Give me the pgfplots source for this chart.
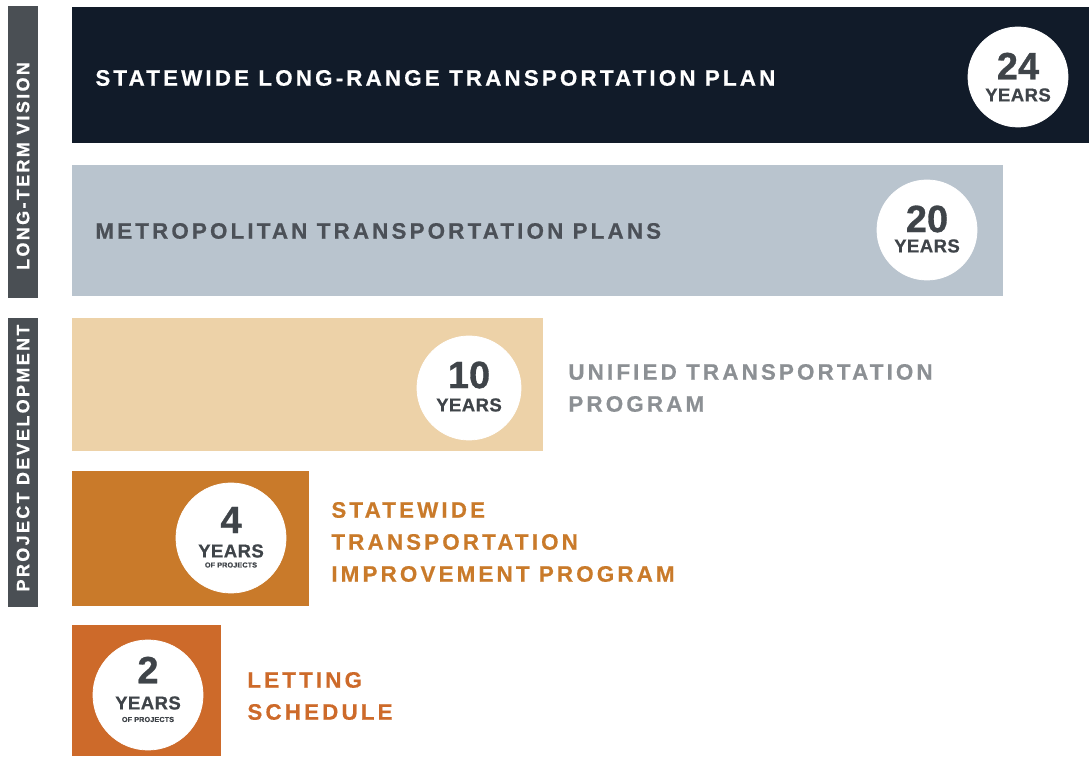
\documentclass[border=0pt]{standalone}
\usepackage{pgfplots}
\pgfplotsset{compat=1.18}
\usepackage{fontspec}
\setmainfont{Liberation Sans}
\newfontfamily\lab[LetterSpace=14,FakeBold=0.5]{Liberation Sans Bold}
\newfontfamily\blab[LetterSpace=13,FakeBold=0.6]{Liberation Sans Bold}
\newfontfamily\num[FakeBold=0.8]{Liberation Sans Bold}
\newfontfamily\yrs[LetterSpace=2,FakeBold=0.6]{Liberation Sans Bold}
\definecolor{navy}{HTML}{111B29}
\definecolor{steel}{HTML}{B9C4CE}
\definecolor{sand}{HTML}{EDD2A8}
\definecolor{ochre}{HTML}{C97A2A}
\definecolor{rust}{HTML}{CD6A2A}
\definecolor{band}{HTML}{4A4F54}
\definecolor{circtxt}{HTML}{3F4449}
\definecolor{midgray}{HTML}{4B5057}
\definecolor{lightgray}{HTML}{8C9094}
\begin{document}
\begin{tikzpicture}
\begin{axis}[
  set layers,
  scale only axis, width=544.5bp, height=378.5bp,
  xmin=-72, xmax=1017, ymin=0, ymax=757, y dir=reverse,
  hide axis, clip=false,
  xbar, bar shift=0pt,
]
\path (axis cs:-72,0) rectangle (axis cs:1017,757);
% bar lengths in px-units, bar centres
\addplot[on layer=axis background, fill=navy, draw=none, bar width=136] coordinates {(1017,75)};
\addplot[on layer=axis background, fill=steel, draw=none, bar width=131] coordinates {(931,230.5)};
\addplot[on layer=axis background, fill=sand, draw=none, bar width=133] coordinates {(471,384.5)};
\addplot[on layer=axis background, fill=ochre, draw=none, bar width=135] coordinates {(237,538.5)};
\addplot[on layer=axis background, fill=rust, draw=none, bar width=131] coordinates {(149,690.5)};
% section bands
\fill[band] (axis cs:-64,6) rectangle (axis cs:-34,298);
\fill[band] (axis cs:-64,318) rectangle (axis cs:-34,607);
% white circles
\addplot[on layer=pre main, xbar=false, white, only marks, mark=*, mark size=25bp] coordinates {(946,77)(855,230)};
\addplot[on layer=pre main, xbar=false, white, only marks, mark=*, mark size=26bp] coordinates {(397,388)};
\addplot[on layer=pre main, xbar=false, white, only marks, mark=*, mark size=27.5bp] coordinates {(159,538)(76,695)};
% band labels
\node[rotate=90, inner sep=0pt, text=white, font={\blab\fontsize{9bp}{9bp}\selectfont}] at (axis cs:-49,166) {LONG-TERM VISION};
\node[rotate=90, inner sep=0pt, text=white, font={\blab\fontsize{9bp}{9bp}\selectfont}] at (axis cs:-49,458) {PROJECT DEVELOPMENT};
% bar labels
\tikzset{labst/.style={anchor=west, inner sep=0pt, align=left, font={\lab\fontsize{11.2bp}{16bp}\selectfont}}}
\node[labst, text=white] at (axis cs:23,78) {STATEWIDE LONG-RANGE TRANSPORTATION PLAN};
\node[labst, text=midgray] at (axis cs:23,231) {METROPOLITAN TRANSPORTATION PLANS};
\node[labst, text=lightgray] at (axis cs:496,388) {UNIFIED TRANSPORTATION\\PROGRAM};
\node[labst, text=ochre] at (axis cs:259,542) {STATEWIDE\\TRANSPORTATION\\IMPROVEMENT PROGRAM};
\node[labst, text=rust] at (axis cs:175,696) {LETTING\\SCHEDULE};
% circle texts
\tikzset{numst/.style={inner sep=0pt, text=circtxt, font={\num\fontsize{19bp}{20bp}\selectfont}},
         yrst/.style={inner sep=0pt, text=circtxt, font={\yrs\fontsize{9.3bp}{10bp}\selectfont}},
         opst/.style={inner sep=0pt, text=circtxt, font={\yrs\fontsize{3.6bp}{4bp}\selectfont}}}
\begin{pgfonlayer}{axis foreground}
\node[numst] at (axis cs:946,66) {24};
\node[yrst] at (axis cs:946,95) {YEARS};
\node[numst] at (axis cs:855,219) {20};
\node[yrst] at (axis cs:855,246) {YEARS};
\node[numst] at (axis cs:397,375) {10};
\node[yrst] at (axis cs:397,405) {YEARS};
\node[numst] at (axis cs:159,520) {4};
\node[yrst] at (axis cs:159,551) {YEARS};
\node[opst] at (axis cs:159,565) {OF PROJECTS};
\node[numst] at (axis cs:76,670) {2};
\node[yrst] at (axis cs:76,703) {YEARS};
\node[opst] at (axis cs:76,719.5) {OF PROJECTS};
\end{pgfonlayer}
\end{axis}
\end{tikzpicture}
\end{document}
